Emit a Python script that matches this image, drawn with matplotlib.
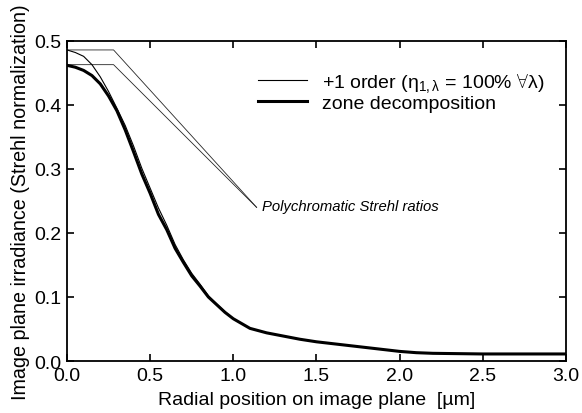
import matplotlib
matplotlib.use("Agg")
import matplotlib.pyplot as plt

plt.rcParams['font.family'] = ['Liberation Sans', 'DejaVu Sans']
plt.rcParams['mathtext.fontset'] = 'custom'
plt.rcParams['mathtext.rm'] = 'Liberation Sans'
plt.rcParams['mathtext.it'] = 'Liberation Sans:italic'

# radial position [um]
r_order = [0.0, 0.05, 0.1, 0.15, 0.2, 0.25, 0.3, 0.35, 0.4, 0.45, 0.5, 0.55, 0.6, 0.65,
           0.7, 0.75, 0.8, 0.85, 0.9, 0.95, 1.0, 1.1, 1.2, 1.3, 1.4, 1.5, 1.6, 1.7, 1.8,
           1.9, 2.0, 2.1, 2.2, 2.5, 3.0]
# +1 order, 100% efficiency
irr_order = [0.486, 0.482, 0.476, 0.463, 0.444, 0.421, 0.395, 0.368, 0.336, 0.301, 0.270,
             0.239, 0.212, 0.182, 0.158, 0.137, 0.120, 0.102, 0.089, 0.077, 0.066, 0.051,
             0.044, 0.039, 0.034, 0.030, 0.027, 0.024, 0.021, 0.018, 0.015, 0.013, 0.012,
             0.011, 0.011]

r_zone = [0.0, 0.05, 0.1, 0.15, 0.2, 0.25, 0.3, 0.35, 0.4, 0.45, 0.5, 0.55, 0.6, 0.65,
          0.7, 0.75, 0.8, 0.85, 0.9, 0.95, 1.0, 1.1, 1.2, 1.3, 1.4, 1.5, 1.6, 1.7, 1.8,
          1.9, 2.0, 2.1, 2.2, 2.5, 3.0]
# zone decomposition
irr_zone = [0.462, 0.459, 0.454, 0.446, 0.433, 0.414, 0.391, 0.361, 0.327, 0.292, 0.262,
            0.229, 0.205, 0.176, 0.154, 0.133, 0.117, 0.100, 0.088, 0.076, 0.066, 0.051,
            0.044, 0.039, 0.034, 0.030, 0.027, 0.024, 0.021, 0.018, 0.015, 0.013, 0.012,
            0.011, 0.011]

# polychromatic Strehl ratio markers (level, then pointer to label)
strehl_order = [0.486, 0.486, 0.24]
strehl_zone = [0.463, 0.463, 0.24]
strehl_r = [0.0, 0.28, 1.14]

fig = plt.figure(figsize=(5.82, 4.14), dpi=100)
ax = fig.add_axes([0.1151, 0.1256, 0.8574, 0.7730])

ax.plot(strehl_r, strehl_order, color='0.15', lw=0.6)
ax.plot(strehl_r, strehl_zone, color='0.15', lw=0.6)
ax.plot(r_order, irr_order, color='black', lw=0.8,
        label=r'+1 order ($\mathrm{\eta}_{1,\mathrm{\lambda}}$ = 100% $\forall\mathrm{\lambda}$)')
ax.plot(r_zone, irr_zone, color='black', lw=2.2, label='zone decomposition')

ax.text(1.175, 0.242, 'Polychromatic Strehl ratios', style='italic', fontsize=10.7,
        va='center', ha='left')

ax.set_xlim(0, 3.0)
ax.set_ylim(0, 0.5)
ax.set_xticks([0.0, 0.5, 1.0, 1.5, 2.0, 2.5, 3.0])
ax.set_yticks([0.0, 0.1, 0.2, 0.3, 0.4, 0.5])
ax.xaxis.set_major_formatter(matplotlib.ticker.FormatStrFormatter('%.1f'))
ax.yaxis.set_major_formatter(matplotlib.ticker.FormatStrFormatter('%.1f'))
ax.tick_params(direction='in', top=True, right=True, length=5, width=1.2,
               labelsize=14, pad=4)
for s in ax.spines.values():
    s.set_linewidth(1.3)

ax.set_xlabel('Radial position on image plane  [µm]', fontsize=14, labelpad=5)
ax.set_ylabel('Image plane irradiance (Strehl normalization)', fontsize=14.2)
ax.yaxis.set_label_coords(-0.074, 0.5)

ax.legend(loc='upper left', bbox_to_anchor=(0.383, 0.905), frameon=False, fontsize=14,
          handlelength=2.5, handletextpad=0.8, labelspacing=0.0, borderaxespad=0,
          borderpad=0)

fig.savefig('out.png', dpi=100)
